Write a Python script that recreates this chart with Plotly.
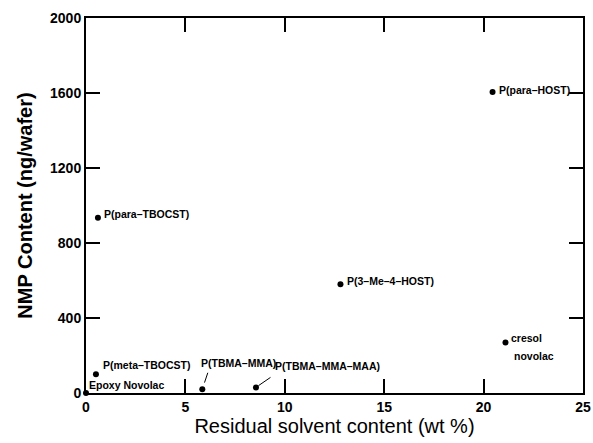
import plotly.graph_objects as go

# Data
names = ["P(para–HOST)", "P(para–TBOCST)", "P(3–Me–4–HOST)", "cresol novolac",
         "P(meta–TBOCST)", "Epoxy Novolac", "P(TBMA–MMA)", "P(TBMA–MMA–MAA)"]
residual_solvent = [20.45, 0.6, 12.8, 21.1, 0.5, 0.0, 5.85, 8.55]
nmp_content = [1605, 935, 580, 270, 100, 0, 20, 30]

x_ticks = [0, 5, 10, 15, 20, 25]
y_ticks = [0, 400, 800, 1200, 1600, 2000]

FONT = "Liberation Sans, Arial, Helvetica, sans-serif"
LABEL_FONT = dict(family=FONT, size=10.5, color="black", weight="bold")

fig = go.Figure()
fig.add_trace(go.Scatter(
    x=residual_solvent, y=nmp_content, mode="markers",
    marker=dict(color="black", size=6),
    cliponaxis=False, hoverinfo="text", text=names, showlegend=False,
))

label_style = {
    "P(para–HOST)": dict(xshift=4, yshift=2),
    "P(para–TBOCST)": dict(xshift=4, yshift=4),
    "P(3–Me–4–HOST)": dict(xshift=5, yshift=3),
    "P(meta–TBOCST)": dict(xshift=5, yshift=9),
    "Epoxy Novolac": dict(xshift=1, yshift=8),
    "P(TBMA–MMA)": dict(xshift=-3, yshift=26),
    "P(TBMA–MMA–MAA)": dict(xshift=17, yshift=21),
}
for n, xv, yv in zip(names, residual_solvent, nmp_content):
    if n == "cresol novolac":
        fig.add_annotation(x=xv, y=yv, text="cresol", showarrow=False,
                           xanchor="left", yanchor="middle", xshift=4, yshift=4,
                           font=LABEL_FONT)
        fig.add_annotation(x=xv, y=yv, text="novolac", showarrow=False,
                           xanchor="left", yanchor="middle", xshift=7, yshift=-14,
                           font=LABEL_FONT)
        continue
    s = label_style[n]
    fig.add_annotation(x=xv, y=yv, text=n, showarrow=False,
                       xanchor="left", yanchor="middle",
                       xshift=s["xshift"], yshift=s["yshift"],
                       font=LABEL_FONT)

# leader lines from points to their labels
leaders = {"P(TBMA–MMA)": (6, -18, 7), "P(TBMA–MMA–MAA)": (16, -11, 3)}
for n, xv, yv in zip(names, residual_solvent, nmp_content):
    if n in leaders:
        ax, ay, so = leaders[n]
        fig.add_annotation(x=xv, y=yv, text="", showarrow=True, arrowhead=0,
                           arrowwidth=1, arrowcolor="black", ax=ax, ay=ay, standoff=so)

axis_common = dict(
    ticks="inside", ticklen=14, tickwidth=1.5, tickcolor="black",
    showline=True, linewidth=2, linecolor="black", mirror="ticks",
    showgrid=False, zeroline=False, automargin=False,
    tickfont=dict(family=FONT, size=14, color="black", weight="bold"),
)
fig.update_xaxes(range=[0, 25], tickvals=x_ticks,
                 title=dict(text="Residual solvent content (wt %)", standoff=4,
                            font=dict(family=FONT, size=20, color="black")),
                 **axis_common)
fig.update_yaxes(range=[0, 2000], tickvals=y_ticks,
                 title=dict(text="NMP Content (ng/wafer)", standoff=12,
                            font=dict(family=FONT, size=20, color="black", weight="bold")),
                 **axis_common)

fig.update_layout(
    width=593, height=443,
    margin=dict(l=86, r=10, t=18, b=50),
    plot_bgcolor="white", paper_bgcolor="white",
    font=dict(family=FONT, color="black"),
)
fig.write_html("out.html")
